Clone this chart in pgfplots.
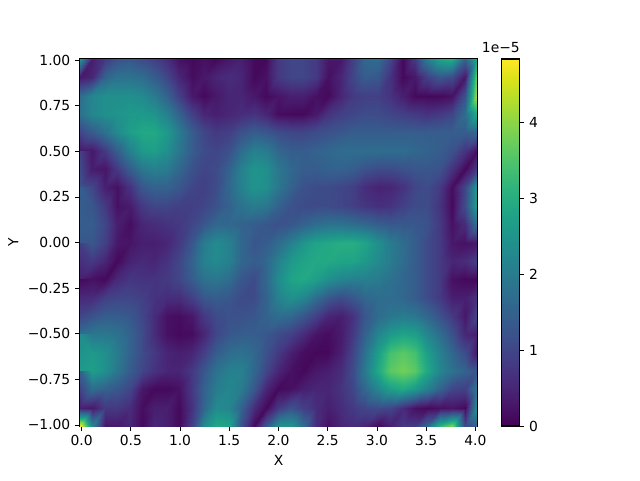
\documentclass[border=0pt]{standalone}
\usepackage{fontspec}
\setmainfont{DejaVu Sans}
\usepackage{pgfplots}
\pgfplotsset{compat=1.18}
\begin{document}
\fontsize{10.4}{12}\selectfont
\begin{tikzpicture}
\useasboundingbox (0,0) rectangle (480pt,360pt);
\begin{axis}[
  at={(60pt,40.5pt)}, anchor=south west,
  scale only axis, width=297.75pt, height=275.25pt,
  xmin=-0.016, xmax=4.016, ymin=-1.006, ymax=1.006,
  axis line style={line width=0.83pt},
  tick style={black, line width=0.6pt, major tick length=3.6pt},
  tick align=outside, xtick pos=bottom, ytick pos=left,
  xtick={0,0.5,1,1.5,2,2.5,3,3.5,4},
  xticklabels={0.0,0.5,1.0,1.5,2.0,2.5,3.0,3.5,4.0},
  ytick={-1,-0.75,-0.5,-0.25,0,0.25,0.5,0.75,1},
  yticklabels={−1.00,−0.75,−0.50,−0.25,0.00,0.25,0.50,0.75,1.00},
  xlabel={X}, ylabel={Y},
  colormap/viridis, point meta min=0, point meta max=4.83,
  colorbar,
  colorbar style={
    at={(parent axis.south east)}, anchor=south west, xshift=9.75pt,
    scale only axis, width=13.5pt, height=275.25pt,
    axis line style={line width=0.83pt},
    ytick={0,1,2,3,4}, yticklabels={0,1,2,3,4},
    tick style={black, line width=0.6pt, major tick length=3.6pt},
    tick align=outside, ytick pos=right,
  },
]
\addplot[surf, shader=interp, mesh/rows=21, mesh/cols=33, point meta=explicit]
 table[row sep=\\, header=false, meta index=0,
   x expr={-0.016+mod(\coordindex,33)*0.126},
   y expr={1.006-floor(\coordindex/33)*0.1006}] {
2.5\\.4\\.8\\1.2\\1.3\\1.1\\.9\\.6\\.2\\.1\\.2\\.1\\.3\\.4\\.1\\.1\\.8\\1\\1\\.8\\.3\\.3\\.9\\1.6\\1.7\\1\\.1\\.8\\2\\2.8\\3\\1.5\\3\\
.3\\.5\\1.5\\1.8\\1.8\\1.7\\1.4\\1\\.5\\.15\\.3\\.5\\.6\\.5\\.1\\.2\\.8\\1\\1\\.8\\.2\\.5\\1\\1.4\\1.3\\.7\\.1\\.3\\.9\\1.3\\1.1\\.3\\3.8\\
1.7\\2.2\\2.4\\2.4\\2.4\\2.3\\2\\1.5\\.9\\.3\\.1\\.3\\.5\\.5\\.3\\.1\\.25\\.4\\.4\\.2\\.1\\.5\\.8\\.9\\.9\\.7\\.4\\.1\\.1\\.1\\.2\\1.2\\4.3\\
1.8\\2.2\\2.4\\2.5\\2.6\\2.6\\2.5\\2.1\\1.5\\.9\\.5\\.4\\.5\\.6\\.7\\.5\\.15\\.1\\.1\\.3\\.7\\.9\\1\\1.1\\1.1\\1\\.9\\.8\\.7\\.8\\1\\1.7\\3\\
1\\1.4\\1.8\\2.3\\2.7\\2.9\\2.9\\2.6\\2\\1.4\\1\\.8\\.9\\1.2\\1.4\\1.3\\1.1\\1\\1\\1.1\\1.2\\1.3\\1.4\\1.4\\1.4\\1.4\\1.4\\1.4\\1.4\\1.4\\1.4\\1.4\\1.6\\
.3\\.3\\.8\\1.4\\2.1\\2.6\\2.7\\2.4\\1.9\\1.4\\1.1\\1\\1.2\\1.7\\2.1\\2\\1.6\\1.4\\1.4\\1.5\\1.6\\1.7\\1.7\\1.7\\1.7\\1.7\\1.7\\1.6\\1.5\\1.4\\1.2\\.7\\.2\\
.9\\.35\\.25\\.8\\1.4\\1.9\\2.1\\2\\1.6\\1.2\\1\\1.1\\1.5\\2.1\\2.5\\2.4\\1.9\\1.6\\1.4\\1.4\\1.5\\1.5\\1.4\\1.2\\1.1\\1.1\\1.2\\1.3\\1.3\\1.2\\.7\\.1\\.8\\
1.2\\1\\.4\\.2\\.7\\1.3\\1.5\\1.5\\1.3\\1\\.9\\1.1\\1.6\\2.1\\2.5\\2.4\\1.9\\1.5\\1.2\\1.1\\1.1\\1\\.9\\.6\\.45\\.5\\.7\\1\\1.1\\.8\\.15\\1\\2.6\\
1.4\\1.3\\.8\\.2\\.35\\.8\\1\\1\\.9\\.9\\1\\1.2\\1.5\\1.8\\2\\1.9\\1.5\\1.2\\1.1\\1.1\\1.1\\1\\.9\\.75\\.65\\.7\\.9\\1.1\\1.1\\.7\\.1\\1.1\\2.7\\
1.4\\1.4\\1\\.4\\.15\\.5\\.6\\.7\\.8\\1\\1.3\\1.6\\1.6\\1.5\\1.4\\1.3\\1.2\\1.3\\1.5\\1.7\\1.8\\1.8\\1.7\\1.6\\1.4\\1.3\\1.3\\1.3\\1.2\\.8\\.2\\.6\\1.8\\
1.3\\1.3\\.9\\.3\\.25\\.4\\.4\\.5\\.8\\1.3\\2\\2.3\\2.1\\1.6\\1.3\\1.4\\1.7\\2.1\\2.5\\2.8\\2.9\\3\\3\\2.8\\2.4\\2\\1.7\\1.4\\1.1\\.8\\.3\\.2\\.3\\
.9\\.8\\.5\\.1\\.45\\.55\\.5\\.7\\1\\1.5\\2.1\\2.3\\2.1\\1.6\\1.4\\1.6\\2.1\\2.6\\2.8\\2.9\\2.9\\2.8\\2.8\\2.6\\2.3\\2\\1.7\\1.4\\1.1\\.8\\.5\\.6\\.9\\
.4\\.2\\.1\\.55\\.75\\.7\\.7\\.8\\1\\1.4\\1.8\\1.9\\1.7\\1.3\\1.1\\1.6\\2.3\\2.8\\2.9\\2.7\\2.4\\2.2\\2.1\\2.1\\2\\1.8\\1.6\\1.4\\1.1\\.8\\.2\\.1\\.1\\
.1\\.6\\.9\\1\\1\\.9\\.7\\.6\\.6\\.9\\1.3\\1.4\\1.3\\1.1\\1.1\\1.5\\2.1\\2.4\\2.2\\1.7\\1.3\\1.1\\1.3\\1.6\\1.7\\1.7\\1.6\\1.4\\1.1\\.8\\.4\\.4\\.7\\
1\\1.2\\1.4\\1.4\\1.3\\1\\.6\\.2\\.15\\.3\\.8\\1.1\\1.2\\1.2\\1.3\\1.5\\1.7\\1.6\\1.3\\.9\\.5\\.4\\.7\\1.3\\1.7\\1.9\\2\\1.9\\1.6\\1.2\\.8\\.3\\1\\
1.7\\1.9\\1.9\\1.8\\1.5\\1.1\\.6\\.2\\.1\\.15\\.5\\1\\1.3\\1.4\\1.4\\1.3\\1.1\\.9\\.6\\.25\\.15\\.35\\.8\\1.5\\2.2\\2.6\\2.8\\2.7\\2.2\\1.7\\1.2\\.5\\.4\\
2.3\\2.6\\2.4\\2\\1.5\\1.1\\.8\\.5\\.4\\.5\\.9\\1.4\\1.7\\1.8\\1.6\\1.2\\.8\\.4\\.15\\.1\\.1\\.4\\1\\1.8\\2.7\\3.4\\3.6\\3.4\\2.7\\2.1\\1.6\\1.1\\.3\\
2.6\\2.7\\2.4\\1.9\\1.4\\1\\.7\\.5\\.5\\.8\\1.3\\1.8\\2.1\\2.1\\1.6\\1\\.5\\.2\\.1\\.3\\.4\\.6\\1.1\\2\\2.9\\3.6\\3.8\\3.6\\2.9\\2.2\\1.8\\1.5\\1.3\\
1.5\\1.7\\1.5\\1.3\\1\\.3\\.1\\.1\\.2\\.8\\1.5\\2\\2.2\\2\\1.3\\.5\\.1\\.2\\.4\\.5\\.5\\.7\\1\\1.6\\2.2\\2.7\\2.9\\2.6\\2.1\\1.5\\1\\.9\\2\\
.4\\.3\\.8\\.8\\.6\\.15\\.4\\.4\\.1\\.7\\1.6\\2.3\\2.2\\1.5\\.6\\.1\\.8\\1.2\\.9\\.6\\.4\\.6\\.8\\1\\1.1\\1\\.6\\.2\\.1\\.2\\.25\\.1\\2.4\\
4.8\\2.2\\.3\\.3\\.5\\.1\\.5\\.4\\.1\\.9\\2.3\\2.9\\2.8\\1.2\\.1\\1.3\\2.4\\2.5\\1.7\\.6\\.2\\.5\\.6\\.5\\.1\\.4\\.8\\.8\\1.6\\3.2\\3.9\\1\\1.5\\
};
\end{axis}
\node[anchor=base east] at (393.5pt,321pt) {1e−5};
\end{tikzpicture}
\end{document}
